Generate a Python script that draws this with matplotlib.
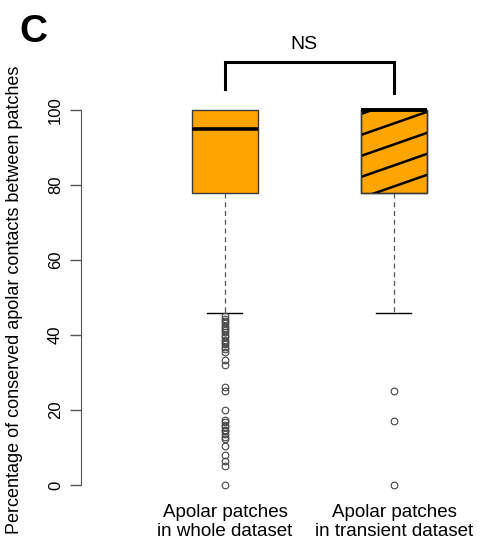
import numpy as np
import matplotlib
matplotlib.use("Agg")
import matplotlib.pyplot as plt
from matplotlib.patches import Rectangle

plt.rcParams['font.family'] = ['Liberation Sans', 'DejaVu Sans']

# summary values for the two groups
groups = ["Apolar patches\nin whole dataset", "Apolar patches\nin transient dataset"]
medians = [95, 100]
q1 = [78, 78]
q3 = [100, 100]
whisker_low = [46, 46]
whisker_high = [100, 100]
outliers_whole = [45, 44.4, 43.8, 43.2, 42.5, 41.9, 41.3, 40.7, 40, 39.4, 38.7, 38.1,
                  37.5, 36.8, 36.2, 35.6, 33.3, 32, 26.1, 25, 20, 17.4, 16.7, 16, 15.4,
                  14.8, 14.3, 13.6, 12.9, 12.2, 10.3, 8, 6.3, 5.2, 0]
outliers_transient = [25, 17, 0]

fig = plt.figure(figsize=(4.89, 5.47), dpi=100)
W, H = 489, 547
ax = fig.add_axes([81 / W, 47 / H, 399 / W, 405 / H])

stats = []
for i in range(2):
    stats.append(dict(med=medians[i], q1=q1[i], q3=q3[i],
                      whislo=whisker_low[i], whishi=whisker_high[i],
                      fliers=[outliers_whole, outliers_transient][i]))

bp = ax.bxp(stats, positions=[1, 2], widths=0.396, capwidths=0.207,
            patch_artist=True, showfliers=True,
            boxprops=dict(facecolor='#FFA500', edgecolor='#3a3a3a', linewidth=1.0),
            medianprops=dict(color='black', linewidth=2.6, solid_capstyle='butt'),
            whiskerprops=dict(color='#555555', linewidth=0.9, linestyle=(0, (4, 3))),
            capprops=dict(color='black', linewidth=1.0),
            flierprops=dict(marker='o', markersize=4.8, markerfacecolor='none',
                            markeredgecolor='#444444', markeredgewidth=0.8))
# upper whiskers coincide with the box top, so hide their caps
bp['caps'][1].set_visible(False)
bp['caps'][3].set_visible(False)

# diagonal shading lines on the transient box
x_left, x_right = 2 - 0.198, 2 + 0.198
clip = Rectangle((x_left, q1[1]), x_right - x_left, q3[1] - q1[1],
                 transform=ax.transData, facecolor='none', edgecolor='none')
ax.add_patch(clip)
slope = 0.35 * (169 / 3.75)
xs = np.array([x_left, x_right])
for y0 in np.arange(110.1, 60, -5.6):
    ln, = ax.plot(xs, y0 + slope * (xs - x_left), color='black', linewidth=1.8)
    ln.set_clip_path(clip)
# redraw box outline over the shading
ax.add_patch(Rectangle((x_left, q1[1]), x_right - x_left, q3[1] - q1[1],
                       facecolor='none', edgecolor='#3a3a3a', linewidth=1.0, zorder=3))
ax.plot([x_left, x_right], [medians[1], medians[1]], color='black',
        linewidth=2.6, solid_capstyle='butt', zorder=4)

ax.set_xlim(0.148, 2.509)
ax.set_ylim(-4, 104)
for s in ['top', 'right', 'bottom']:
    ax.spines[s].set_visible(False)
ax.spines['left'].set_bounds(0, 100)
ax.spines['left'].set_color('#555555')
ax.set_yticks([0, 20, 40, 60, 80, 100])
ax.tick_params(axis='y', length=8, width=1, color='#555555', labelsize=12, pad=5)
for lab in ax.get_yticklabels():
    lab.set_rotation(90)
    lab.set_va('center')
ax.set_xticks([1, 2])
ax.set_xticklabels(groups, fontsize=13.5, linespacing=1.15)
ax.tick_params(axis='x', length=0, pad=3)

# significance bracket
ax.plot([1, 1, 2, 2], [105.6, 112.9, 112.9, 104.5], color='black', linewidth=2.2,
        clip_on=False, solid_joinstyle='miter')
ax.text(1.47, 117.5, "NS", ha='center', va='center', fontsize=14)

fig.text(15 / W, 1 - 300 / H, "Percentage of conserved apolar contacts between patches",
         rotation=90, ha='center', va='center', fontsize=13)
fig.text(33 / W, 1 - 32 / H, "C", ha='center', va='center', fontsize=28,
         fontweight='bold')

fig.savefig("out.png", dpi=100)
